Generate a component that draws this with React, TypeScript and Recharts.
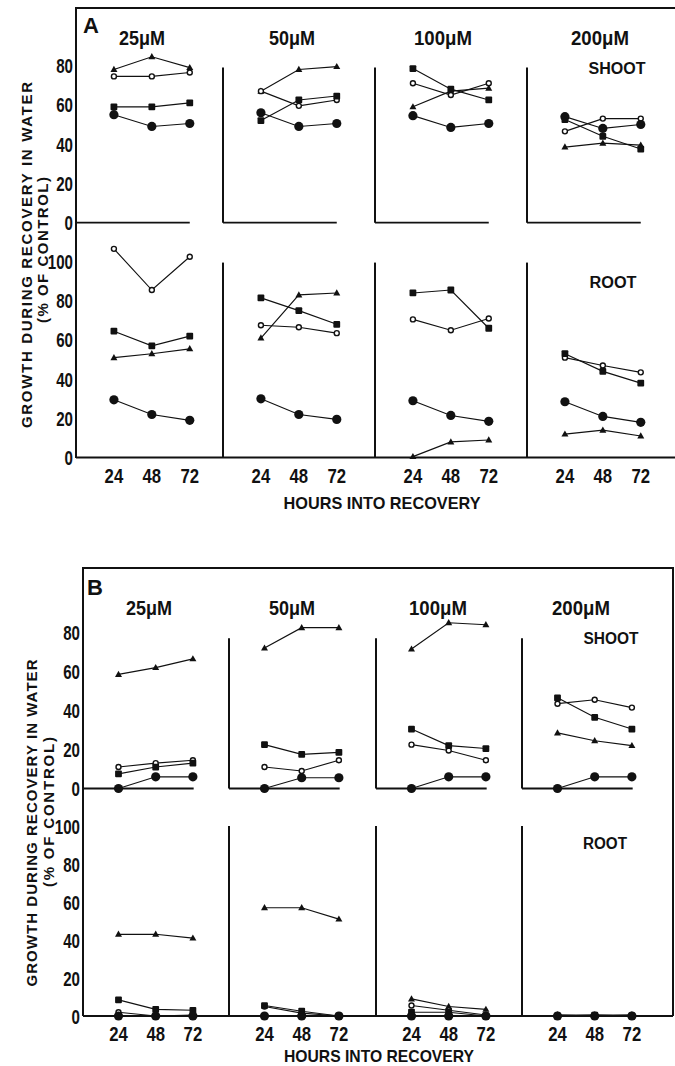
import React from 'react';
import { LineChart, Line, XAxis, YAxis, ReferenceLine } from 'recharts';

const hours = [24, 48, 72];
const concentrations = ['25', '50', '100', '200'];
const shootTicks = [0, 20, 40, 60, 80];
const rootTicks = [0, 20, 40, 60, 80, 100];

// panel A: one triple (24, 48, 72 h) per concentration
const aShootCircle = [[55, 49, 50.5], [56, 49, 50.5], [54.5, 48.5, 50.5], [54, 48, 50]];
const aShootOpen = [[74.5, 74.5, 76.5], [67, 59.5, 62.5], [71, 65, 71], [46.5, 53, 53]];
const aShootSquare = [[59, 59, 61], [52, 62.5, 64.5], [78.5, 68, 62.5], [52.5, 44, 37.5]];
const aShootTri = [[78, 84.5, 79], [67, 78, 79.5], [59, 67, 68.5], [38.5, 40.5, 39.5]];

const aRootCircle = [[29.5, 22, 19], [30, 22, 19.5], [29, 21.5, 18.5], [28.5, 21, 18]];
const aRootOpen = [[106.5, 85.5, 102.5], [67.5, 66.5, 63.5], [70.5, 65, 71], [51, 47, 43.5]];
const aRootSquare = [[64.5, 57, 62], [81.5, 75, 68], [84, 85.5, 66], [53, 44, 38]];
const aRootTri = [[51, 53, 55.5], [61, 83, 84], [0.5, 8, 9], [12, 14, 11]];

// panel B
const bShootCircle = [[0, 6, 6], [0, 5.5, 5.5], [0, 6, 6], [0, 6, 6]];
const bShootOpen = [[11, 13, 14.5], [11, 9, 14.5], [22.5, 19.5, 14.5], [43.5, 45.5, 41.5]];
const bShootSquare = [[7.5, 11, 13], [22.5, 17.5, 18.5], [30.5, 22, 20.5], [46.5, 36.5, 30.5]];
const bShootTri = [[58.5, 62, 66.5], [72, 82.5, 82.5], [71.5, 85, 84], [28.5, 24.5, 22]];

const bRootCircle = [[0, 0, 0], [0, 0, 0], [0, 0, 0], [0, 0, 0]];
const bRootOpen = [[2, 0, 0.5], [5, 1.5, 0], [5.5, 3, 0.5], [0.5, 0, 0.5]];
const bRootSquare = [[8.5, 3.5, 3], [5.5, 2.5, 0], [2, 2, 0], [0, 0.5, 0]];
const bRootTri = [[43, 43, 41], [57, 57, 51], [9, 5, 3.5], [0.5, 0.5, 0.5]];

const INK = '#111';
const SANS = "'Liberation Sans', Arial, sans-serif";

type Row = { h: number; circle: number; open: number; square: number; tri: number };

function buildRows(c: number[], o: number[], s: number[], t: number[]): Row[] {
  return hours.map((h, i) => ({ h, circle: c[i], open: o[i], square: s[i], tri: t[i] }));
}

const dotCircle = (p: any) => <circle key={`c${p.index}`} cx={p.cx} cy={p.cy} r={4.6} fill={INK} />;
const dotOpen = (p: any) => (
  <circle key={`o${p.index}`} cx={p.cx} cy={p.cy} r={2.5} fill="#fff" stroke={INK} strokeWidth={1.4} />
);
const dotSquare = (p: any) => (
  <rect key={`s${p.index}`} x={p.cx - 3.4} y={p.cy - 3.4} width={6.8} height={6.8} rx={1} fill={INK} />
);
const dotTri = (p: any) => (
  <path
    key={`t${p.index}`}
    d={`M${p.cx},${p.cy - 3.7} L${p.cx + 3.5},${p.cy + 2.5} L${p.cx - 3.5},${p.cy + 2.5} Z`}
    fill={INK}
  />
);

// condensed bold digits, squeezed to the width of the printed ones
const yTick = (p: any) => {
  const s = String(p.payload.value);
  return (
    <text x={p.x} y={p.y} textAnchor="end" dominantBaseline="central" fill={INK} fontFamily={SANS}
      fontWeight={700} fontSize={21} textLength={s.length * 8.4} lengthAdjust="spacingAndGlyphs">
      {s}
    </text>
  );
};
const xTick = (p: any) => {
  const s = String(p.payload.value);
  return (
    <text x={p.x} y={p.y + 8} textAnchor="middle" dominantBaseline="central" fill={INK} fontFamily={SANS}
      fontWeight={700} fontSize={21} textLength={s.length * 9.3} lengthAdjust="spacingAndGlyphs">
      {s}
    </text>
  );
};

type Layout = {
  axisX: number[];
  widths: number[];
  pxH: number;
  x0: number;
  zeroEnd: number;
  tickGap: number;
  shoot: { zeroY: number; pxU: number; yMax: number; axisTop: number };
  root: { zeroY: number; pxU: number; yMax: number; axisTop: number };
};

const layoutA: Layout = {
  axisX: [76, 223, 375, 527],
  widths: [147, 152, 152, 148],
  pxH: 1.58,
  x0: 0,
  zeroEnd: 72,
  tickGap: 10,
  shoot: { zeroY: 223, pxU: 1.9625, yMax: 90, axisTop: 79 },
  root: { zeroY: 458, pxU: 1.96, yMax: 110, axisTop: 99.5 },
};

const layoutB: Layout = {
  axisX: [83, 229, 376, 522],
  widths: [146, 147, 146, 151],
  pxH: 1.55,
  x0: 1.1,
  zeroEnd: 72.5,
  tickGap: 9,
  shoot: { zeroY: 788, pxU: 1.95, yMax: 90, axisTop: 77 },
  root: { zeroY: 1016, pxU: 1.9, yMax: 110, axisTop: 100 },
};

type SubProps = {
  rows: Row[];
  lay: Layout;
  col: number;
  root: boolean;
};

function SubPlot({ rows, lay, col, root }: SubProps) {
  const YW = 50;
  const top = 4;
  const bottom = root ? 2 : 14;
  const row = root ? lay.root : lay.shoot;
  const plotH = row.yMax * row.pxU;
  const width = lay.widths[col];
  const xHi = lay.x0 + width / lay.pxH;
  const xAxisH = root ? 34 : 0;
  const first = col === 0;
  const yTicks = root ? rootTicks : shootTicks;
  const lineProps = { type: 'linear' as const, stroke: INK, strokeWidth: 1.15, isAnimationActive: false, activeDot: false };
  return (
    <div style={{ position: 'absolute', left: lay.axisX[col] - YW, top: row.zeroY - plotH - top }}>
      <LineChart width={YW + width} height={top + plotH + xAxisH + bottom} data={rows} margin={{ top, right: 0, bottom, left: 0 }}>
        <XAxis
          dataKey="h"
          type="number"
          domain={[lay.x0, xHi]}
          ticks={hours}
          hide={!root}
          height={xAxisH}
          axisLine={{ stroke: INK, strokeWidth: 2 }}
          tickLine={false}
          tickSize={0}
          tickMargin={lay.tickGap}
          tick={xTick}
        />
        <YAxis
          type="number"
          domain={[0, row.yMax]}
          width={YW}
          ticks={first ? yTicks : []}
          tick={first ? yTick : false}
          interval={0}
          axisLine={false}
          tickLine={false}
          tickSize={0}
          tickMargin={3}
        />
        {!first && (
          <ReferenceLine
            segment={[{ x: lay.x0, y: 0 }, { x: lay.x0, y: row.axisTop }]}
            stroke={INK}
            strokeWidth={2}
            ifOverflow="visible"
          />
        )}
        {!root && (
          <ReferenceLine
            segment={[{ x: lay.x0, y: 0 }, { x: lay.zeroEnd, y: 0 }]}
            stroke={INK}
            strokeWidth={1.8}
            ifOverflow="visible"
          />
        )}
        <Line dataKey="tri" {...lineProps} dot={dotTri} />
        <Line dataKey="open" {...lineProps} dot={dotOpen} />
        <Line dataKey="square" {...lineProps} dot={dotSquare} />
        <Line dataKey="circle" {...lineProps} dot={dotCircle} />
      </LineChart>
    </div>
  );
}

function ConcLabel({ x, y, c }: { x: number; y: number; c: string }) {
  return (
    <text x={x} y={y} textAnchor="middle" dominantBaseline="central" fill={INK} fontFamily={SANS}
      fontWeight={700} fontSize={21} textLength={c.length === 2 ? 46 : 58} lengthAdjust="spacingAndGlyphs">
      {`${c}μM`}
    </text>
  );
}

function YTitle({ x1, x2, y1, y2, l1, l2 }: { x1: number; x2: number; y1: number; y2: number; l1: number; l2: number }) {
  return (
    <g fill={INK} fontFamily={SANS} fontWeight={700} fontSize={15}>
      <text x={x1} y={y1} transform={`rotate(-90 ${x1} ${y1})`} textAnchor="middle" dominantBaseline="central" textLength={l1} lengthAdjust="spacing">
        GROWTH DURING RECOVERY IN WATER
      </text>
      <text x={x2} y={y2} transform={`rotate(-90 ${x2} ${y2})`} textAnchor="middle" dominantBaseline="central" textLength={l2} lengthAdjust="spacing">
        (% OF CONTROL)
      </text>
    </g>
  );
}

const sets = {
  aShoot: [aShootCircle, aShootOpen, aShootSquare, aShootTri],
  aRoot: [aRootCircle, aRootOpen, aRootSquare, aRootTri],
  bShoot: [bShootCircle, bShootOpen, bShootSquare, bShootTri],
  bRoot: [bRootCircle, bRootOpen, bRootSquare, bRootTri],
};

function rowsFor(set: number[][][], col: number) {
  return buildRows(set[0][col], set[1][col], set[2][col], set[3][col]);
}

export default function App() {
  const concA = [142, 292, 443, 600];
  const concB = [149, 292, 438, 581];
  return (
    <div style={{ position: 'absolute', left: 0, top: 0, width: 675, height: 1066, background: '#fff', overflow: 'hidden' }}>
      <svg width={675} height={1066} style={{ position: 'absolute', left: 0, top: 0 }}>
        {/* frames */}
        <g stroke={INK} strokeWidth={2} fill="none">
          <path d="M76,458 L76,8 L675,8" />
          <path d="M83,1016 L83,568 L673,568 L673,1016" />
        </g>
        <text x={91} y={25} fontFamily={SANS} fontWeight={700} fontSize={22} textAnchor="middle" dominantBaseline="central" fill={INK}>A</text>
        <text x={95} y={587} fontFamily={SANS} fontWeight={700} fontSize={22} textAnchor="middle" dominantBaseline="central" fill={INK}>B</text>
        {concentrations.map((c, i) => (
          <ConcLabel key={`a${c}`} x={concA[i]} y={37} c={c} />
        ))}
        {concentrations.map((c, i) => (
          <ConcLabel key={`b${c}`} x={concB[i]} y={607} c={c} />
        ))}
        <g fontFamily={SANS} fontWeight={700} fontSize={16} fill={INK} textAnchor="middle" dominantBaseline="central">
          <text x={617} y={68} textLength={57} lengthAdjust="spacingAndGlyphs">SHOOT</text>
          <text x={613} y={282} textLength={47} lengthAdjust="spacingAndGlyphs">ROOT</text>
          <text x={611} y={638} textLength={55} lengthAdjust="spacingAndGlyphs">SHOOT</text>
          <text x={605} y={843} textLength={44} lengthAdjust="spacingAndGlyphs">ROOT</text>
        </g>
        <g fontFamily={SANS} fontWeight={700} fontSize={17} fill={INK} textAnchor="middle" dominantBaseline="central">
          <text x={382} y={503} textLength={197} lengthAdjust="spacingAndGlyphs">HOURS INTO RECOVERY</text>
          <text x={379} y={1056} textLength={190} lengthAdjust="spacingAndGlyphs">HOURS INTO RECOVERY</text>
        </g>
        <YTitle x1={26} y1={255} l1={346} x2={42} y2={250} l2={146} />
        <YTitle x1={31} y1={823} l1={327} x2={48} y2={812} l2={150} />
      </svg>
      {concentrations.map((c, i) => (
        <React.Fragment key={c}>
          <SubPlot rows={rowsFor(sets.aShoot, i)} lay={layoutA} col={i} root={false} />
          <SubPlot rows={rowsFor(sets.aRoot, i)} lay={layoutA} col={i} root={true} />
          <SubPlot rows={rowsFor(sets.bShoot, i)} lay={layoutB} col={i} root={false} />
          <SubPlot rows={rowsFor(sets.bRoot, i)} lay={layoutB} col={i} root={true} />
        </React.Fragment>
      ))}
    </div>
  );
}
